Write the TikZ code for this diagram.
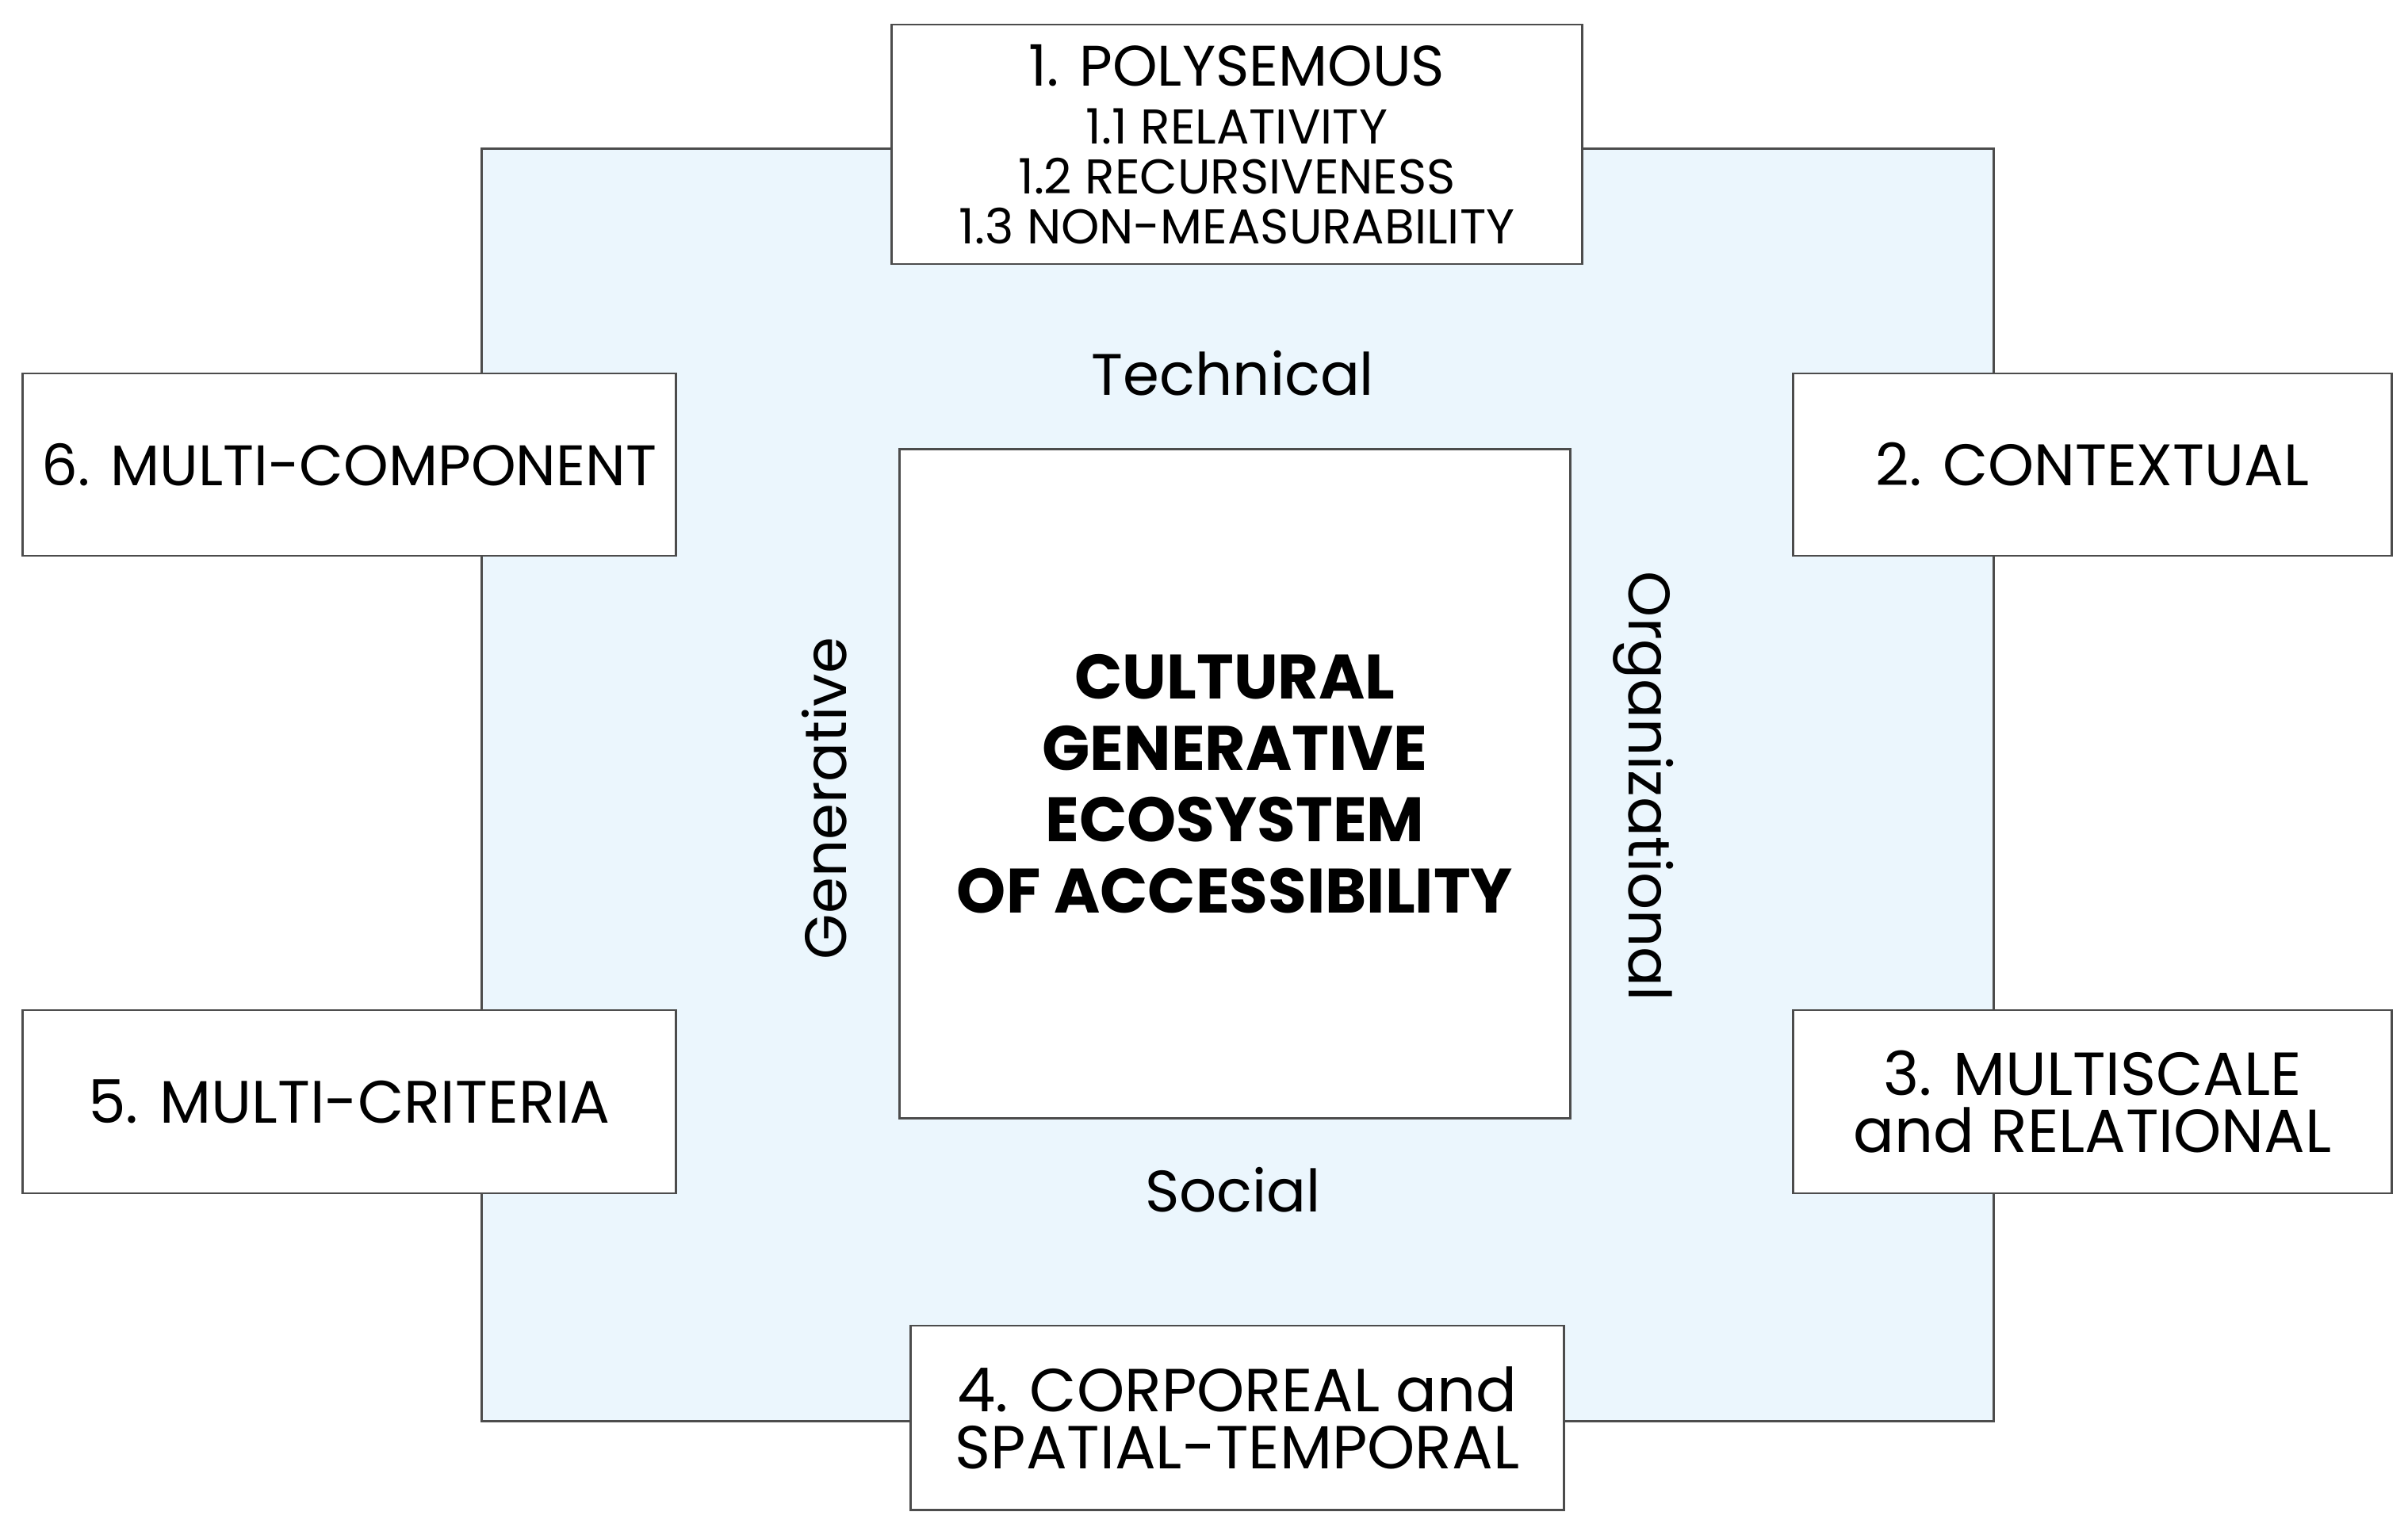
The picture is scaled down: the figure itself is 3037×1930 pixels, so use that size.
\documentclass[tikz,border=0pt]{standalone}
\usepackage{fontspec}
\setmainfont{Poppins}
\begin{document}
\begin{tikzpicture}[x=0.01cm,y=-0.01cm,
  box/.style={draw=black!70,line width=0.8pt,fill=white,rectangle,inner sep=0pt,align=center,font=\fontsize{21}{20.5}\selectfont},
  lab/.style={inner sep=0pt,font=\fontsize{21}{22}\selectfont}]
\definecolor{bluefill}{HTML}{EBF6FD}
\useasboundingbox (0,0) rectangle (3037,1930);
\fill[white] (0,0) rectangle (3037,1930);
\node[draw=black!70,line width=0.8pt,fill=bluefill,minimum width=19.06cm,minimum height=16.04cm,inner sep=0pt] (bg) at (1561,990) {};
\node[box,minimum width=8.45cm,minimum height=8.43cm,font=\bfseries\fontsize{22.5}{25.6}\selectfont] (c) at (1557.5,988.5) {CULTURAL\\GENERATIVE\\ECOSYSTEM\\OF ACCESSIBILITY};
\node[box,minimum width=8.70cm,minimum height=3.02cm,font=\fontsize{17.5}{17.9}\selectfont] (b1) at (1560,182) {{\fontsize{20.5}{24}\selectfont 1. POLYSEMOUS}\\[3pt]1.1 RELATIVITY\\1.2 RECURSIVENESS\\1.3 NON-MEASURABILITY};
\node[box,minimum width=7.54cm,minimum height=2.30cm] (b2) at (2639,586) {2. CONTEXTUAL};
\node[box,minimum width=7.54cm,minimum height=2.31cm,font=\fontsize{21.8}{20.5}\selectfont] (b3) at (2639,1389.5) {3. MULTISCALE\\and RELATIONAL};
\node[box,minimum width=8.23cm,minimum height=2.32cm,font=\fontsize{21.8}{20.5}\selectfont] (b4) at (1560.5,1788) {4. CORPOREAL and\\SPATIAL-TEMPORAL};
\node[box,minimum width=8.23cm,minimum height=2.31cm,font=\fontsize{21.5}{20.5}\selectfont] (b5) at (440.5,1389.5) {5. MULTI-CRITERIA};
\node[box,minimum width=8.23cm,minimum height=2.30cm,font=\fontsize{20.5}{20.5}\selectfont] (b6) at (440.5,586) {6. MULTI-COMPONENT};
\node[lab] (t) at (1555,471) {Technical};
\node[lab] (s) at (1555,1501) {Social};
\node[lab,rotate=90] (g) at (1040,1007) {Generative};
\node[lab,rotate=-90] (o) at (2073,992) {Organizational};
\end{tikzpicture}
\end{document}
